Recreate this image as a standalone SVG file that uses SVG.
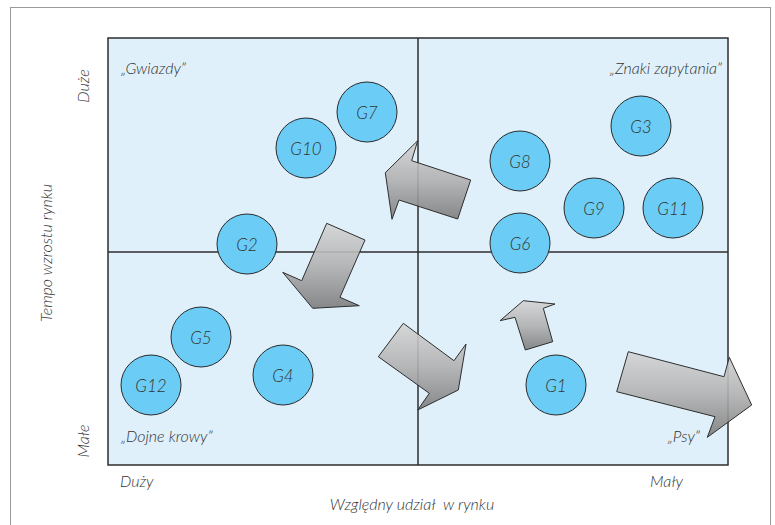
<svg xmlns="http://www.w3.org/2000/svg" width="775" height="525" viewBox="0 0 775 525">
  <defs>
    <linearGradient id="steel" x1="0" y1="0" x2="0" y2="1">
      <stop offset="0" stop-color="#d4d4d4"/>
      <stop offset="0.5" stop-color="#b0b0b0"/>
      <stop offset="1" stop-color="#7c7c7c"/>
    </linearGradient>
    <style>
      text { font-family: "Lato", "Open Sans", "Liberation Sans", sans-serif; font-style: italic; font-weight: 300; fill: #333333; }
      .node circle { fill: #6bcdf5; stroke: #2a2a2a; stroke-width: 1; }
      .node text { font-size: 17px; text-anchor: middle; dominant-baseline: central; }
      .quad { font-size: 16px; }
      .axis { font-size: 16px; }
      .move { fill: url(#steel); fill-opacity: 0.9; stroke: #2e2e2e; stroke-width: 1; stroke-linejoin: miter; }
    </style>
  </defs>

  <!-- page frame -->
  <rect x="10.5" y="7.5" width="760" height="530" fill="#ffffff" stroke="#9a9a9a" stroke-width="1"/>

  <!-- matrix field -->
  <rect x="108" y="38" width="620" height="427" fill="#dff0fa" stroke="#2e2e2e" stroke-width="1.5"/>
  <line x1="418" y1="38" x2="418" y2="465" stroke="#2e2e2e" stroke-width="1.5"/>
  <line x1="108" y1="252" x2="728" y2="252" stroke="#2e2e2e" stroke-width="1.5"/>

  <!-- quadrant names -->
  <text class="quad" x="121" y="74">„Gwiazdy”</text>
  <text class="quad" x="722" y="74" text-anchor="end">„Znaki zapytania”</text>
  <text class="quad" x="121" y="442">„Dojne krowy”</text>
  <text class="quad" x="700" y="442" text-anchor="end">„Psy”</text>

  <!-- axes -->
  <text class="axis" transform="translate(89 86) rotate(-90)" text-anchor="middle">Duże</text>
  <text class="axis" transform="translate(52 253) rotate(-90)" text-anchor="middle">Tempo wzrostu rynku</text>
  <text class="axis" transform="translate(89 441) rotate(-90)" text-anchor="middle">Małe</text>
  <text class="axis" x="120" y="487">Duży</text>
  <text class="axis" x="683" y="487" text-anchor="end">Mały</text>
  <text class="axis" x="412" y="510" text-anchor="middle" xml:space="preserve">Względny udział  w rynku</text>

  <!-- business units -->
  <g id="G7" class="node"><circle cx="367" cy="112" r="30"/><text x="367" y="112">G7</text></g>
  <g id="G10" class="node"><circle cx="306" cy="148" r="30"/><text x="306" y="148">G10</text></g>
  <g id="G2" class="node"><circle cx="247" cy="244" r="30"/><text x="247" y="244">G2</text></g>
  <g id="G5" class="node"><circle cx="201" cy="337" r="30"/><text x="201" y="337">G5</text></g>
  <g id="G12" class="node"><circle cx="151" cy="385" r="30"/><text x="151" y="385">G12</text></g>
  <g id="G4" class="node"><circle cx="283" cy="375" r="30"/><text x="283" y="375">G4</text></g>
  <g id="G8" class="node"><circle cx="520" cy="161" r="30"/><text x="520" y="161">G8</text></g>
  <g id="G3" class="node"><circle cx="641" cy="126" r="30"/><text x="641" y="126">G3</text></g>
  <g id="G9" class="node"><circle cx="594" cy="208" r="30"/><text x="594" y="208">G9</text></g>
  <g id="G11" class="node"><circle cx="673" cy="208" r="30"/><text x="673" y="208">G11</text></g>
  <g id="G6" class="node"><circle cx="520" cy="243" r="30"/><text x="520" y="243">G6</text></g>
  <g id="G1" class="node"><circle cx="556" cy="385" r="30"/><text x="556" y="385">G1</text></g>

  <!-- movement arrows -->
  <g id="connectors">
    <polygon class="move" points="417.7,140.7 411.7,160.7 470.7,180 457.7,219 399,200 392,219.3 385.3,172.7"/>
    <polygon class="move" points="326.7,223.3 365,240 340,297.3 359.3,305.7 312.7,308.3 282.7,272.3 301.7,280.7"/>
    <polygon class="move" points="403.3,323.3 454,360.7 466,344 458.3,390 417.7,410 429.3,393.3 378.3,356.7"/>
    <polygon class="move" points="523.3,300.7 555,304 543.3,308.3 552.7,341.7 525.3,350 515,317.3 500,320.7"/>
    <polygon class="move" points="628.3,351.7 724,376.7 729.3,357.3 751.7,405 707.3,437.3 715,416.7 616.7,391.7"/>
  </g>
</svg>
